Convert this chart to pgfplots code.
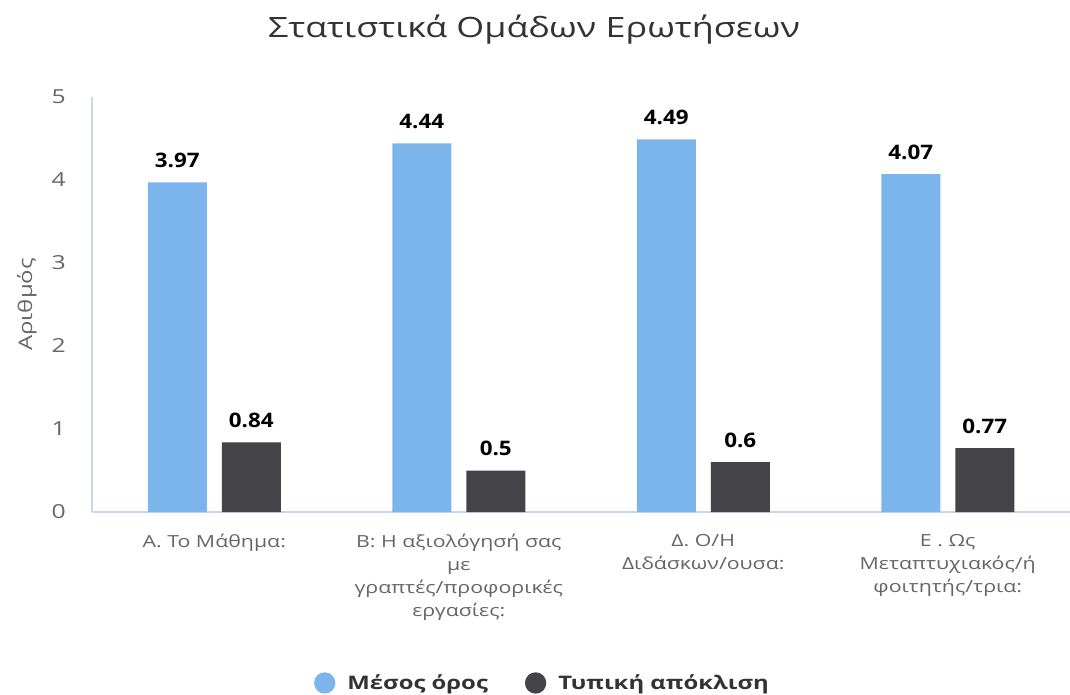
\documentclass[border=0pt]{standalone}
\usepackage{pgfplots}
\pgfplotsset{compat=1.18}
\usepackage{fontspec}
\setmainfont{Open Sans}[FakeStretch=1.28]
\newfontfamily\numfont{Open Sans}[FakeStretch=1.12]
\definecolor{cblue}{HTML}{7CB5EC}
\definecolor{cdark}{HTML}{434348}
\definecolor{axisline}{HTML}{CCD6EB}
\definecolor{lbl}{HTML}{666666}
\definecolor{ttl}{HTML}{333333}
\begin{document}
\begin{tikzpicture}
\useasboundingbox (-69pt,-137.25pt) rectangle (733.5pt,384pt);
\begin{axis}[
  at={(0,0)}, anchor=south west,
  scale only axis, width=733.5pt, height=311.25pt,
  xmin=-0.5, xmax=3.5, ymin=0, ymax=5,
  axis lines*=left,
  axis line style={draw=axisline, line width=0.9pt},
  major tick length=0pt,
  xtick={0,1,2,3},
  xticklabels={{Α. Το Μάθημα:},{Β: Η αξιολόγησή σας\\με\\γραπτές/προφορικές\\εργασίες:},{Δ. Ο/Η\\Διδάσκων/ουσα:},{Ε . Ως\\Μεταπτυχιακός/ή\\φοιτητής/τρια:}},
  xticklabel style={align=center, anchor=north, inner sep=0pt, yshift=-16.5pt, text=lbl, font=\fontsize{12.5}{17.25}\selectfont},
  ytick={0,1,2,3,4,5},
  /pgf/number format/assume math mode=true,
  yticklabel style={anchor=east, inner sep=0pt, xshift=-19.5pt, text=lbl, font=\fontsize{14.5}{16}\selectfont},
  ylabel={Αριθμός},
  ylabel style={at={(axis description cs:-0.0665,0.5)}, anchor=center, text=lbl, font=\fontsize{14}{16}\selectfont},
  title={Στατιστικά Ομάδων Ερωτήσεων},
  title style={at={(0.452,1)}, anchor=center, yshift=44.25pt, text=ttl, font=\fontsize{21}{25}\selectfont},
  nodes near coords,
  every node near coord/.append style={anchor=base, yshift=11.25pt, text=black, font=\numfont\bfseries\fontsize{15}{17}\selectfont, /pgf/number format/assume math mode=true},
  legend columns=2,
  legend style={at={(0.4596,-0.412)}, anchor=center, draw=none, fill=none,
    font=\bfseries\fontsize{14}{16}\selectfont, text=ttl,
    nodes={inner sep=0pt},
    /tikz/every odd column/.append style={column sep=9pt},
    /tikz/every even column/.append style={column sep=27.75pt}},
]
\addplot[ybar, bar width=44.25pt, bar shift=-27.75pt, fill=cblue, draw=none,
  every node near coord/.append style={xshift=-27.75pt},
  legend image code/.code={\fill[cblue] (0pt,0pt) circle (8pt);}]
  coordinates {(0,3.97) (1,4.44) (2,4.49) (3,4.07)};
\addlegendentry{Μέσος όρος}
\addplot[ybar, bar width=44.25pt, bar shift=27.75pt, fill=cdark, draw=none,
  every node near coord/.append style={xshift=27.75pt},
  legend image code/.code={\fill[cdark] (0pt,0pt) circle (8pt);}]
  coordinates {(0,0.84) (1,0.5) (2,0.6) (3,0.77)};
\addlegendentry{Τυπική απόκλιση}
\end{axis}
\end{tikzpicture}
\end{document}
